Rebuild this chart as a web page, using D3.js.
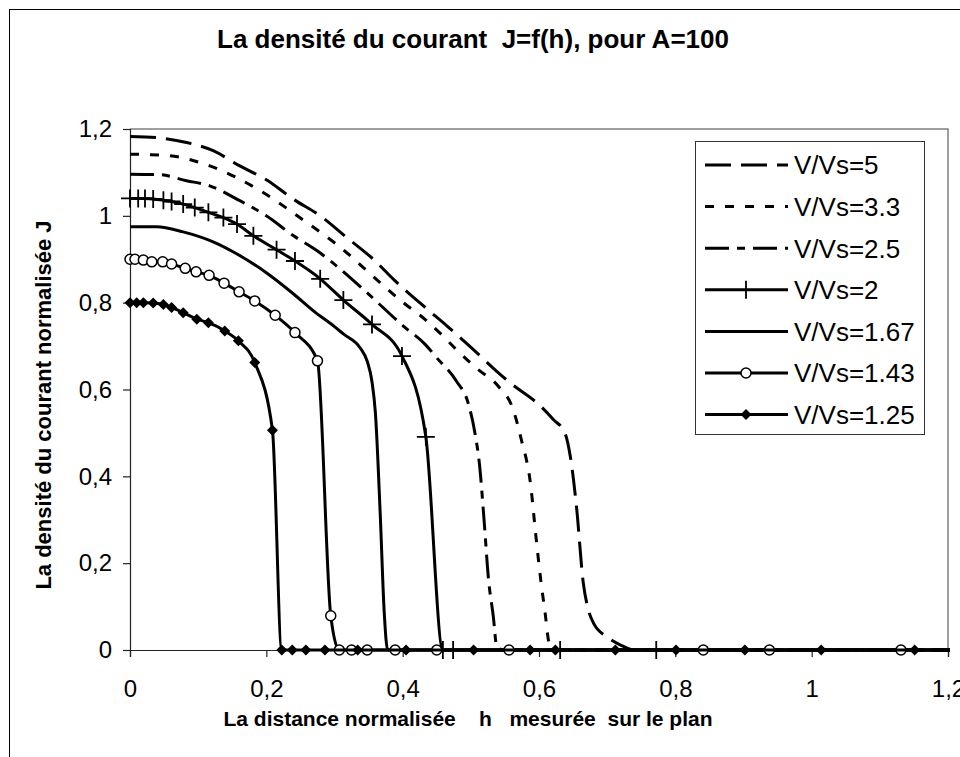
<!DOCTYPE html>
<html lang="fr">
<head>
<meta charset="UTF-8">
<title>La densité du courant J=f(h)</title>
<script src="https://d3js.org/d3.v7.min.js"></script>
<style>
    body { margin: 0; background: #fff; }
    text { font-family: "Liberation Sans", Arial, sans-serif; fill: #000; }
</style>
</head>
<body>
<script>
    // values (h, J) for each V/Vs
    const hVs5 = [0, 0.04, 0.083, 0.122, 0.161, 0.2, 0.24, 0.279, 0.318, 0.357, 0.389, 0.433, 0.466, 0.501, 0.538, 0.558, 0.602, 0.621, 0.638, 0.646, 0.655, 0.665, 0.672, 0.68, 0.70, 0.719, 0.74, 1.26];
    const jVs5 = [1.183, 1.18, 1.169, 1.15, 1.115, 1.083, 1.038, 1.0, 0.95, 0.9, 0.85, 0.789, 0.745, 0.696, 0.642, 0.615, 0.562, 0.531, 0.5, 0.445, 0.33, 0.154, 0.095, 0.062, 0.03, 0.012, 0, 0];

    const hVs33 = [0, 0.054, 0.117, 0.191, 0.249, 0.318, 0.345, 0.401, 0.434, 0.456, 0.48, 0.509, 0.54, 0.5625, 0.574, 0.588, 0.595, 0.602, 0.609, 0.615, 0.625, 1.26];
    const jVs33 = [1.142, 1.139, 1.115, 1.058, 0.996, 0.915, 0.877, 0.80, 0.76, 0.728, 0.69, 0.648, 0.608, 0.552, 0.485, 0.377, 0.269, 0.169, 0.085, 0.015, 0, 0];

    const hVs25 = [0, 0.042, 0.083, 0.117, 0.161, 0.2, 0.24, 0.274, 0.342, 0.401, 0.433, 0.45, 0.479, 0.496, 0.506, 0.513, 0.519, 0.526, 0.533, 0.538, 0.548, 1.26];
    const jVs25 = [1.096, 1.095, 1.081, 1.069, 1.035, 1.0, 0.954, 0.92, 0.831, 0.746, 0.704, 0.673, 0.619, 0.569, 0.5, 0.423, 0.308, 0.162, 0.077, 0.008, 0, 0];

    const hVs2 = [0, 0.012, 0.022, 0.034, 0.049, 0.061, 0.078, 0.095, 0.115, 0.137, 0.157, 0.181, 0.215, 0.242, 0.279, 0.313, 0.355, 0.399, 0.434, 0.459, 0.474, 0.631, 0.772, 1.26];
    const jVs2 = [1.04, 1.04, 1.04, 1.039, 1.036, 1.033, 1.027, 1.019, 1.008, 0.996, 0.981, 0.954, 0.922, 0.896, 0.855, 0.806, 0.75, 0.677, 0.491, 0, 0, 0, 0, 0];

    const hVs167 = [0, 0.039, 0.078, 0.122, 0.157, 0.2, 0.24, 0.27, 0.30, 0.313, 0.338, 0.348, 0.355, 0.36, 0.367, 0.373, 0.378, 1.26];
    const jVs167 = [0.975, 0.975, 0.963, 0.94, 0.912, 0.869, 0.82, 0.78, 0.745, 0.728, 0.695, 0.665, 0.618, 0.546, 0.316, 0.085, 0, 0];

    const hVs143 = [0, 0.0073, 0.0196, 0.032, 0.048, 0.061, 0.081, 0.097, 0.116, 0.138, 0.16, 0.183, 0.213, 0.242, 0.275, 0.2945, 0.307, 0.325, 0.348, 0.389, 0.45, 0.556, 0.841, 0.938, 1.131, 1.26];
    const jVs143 = [0.9, 0.9, 0.898, 0.894, 0.894, 0.889, 0.879, 0.871, 0.863, 0.845, 0.825, 0.804, 0.771, 0.731, 0.666, 0.079, 0, 0, 0, 0, 0, 0, 0, 0, 0, 0];

    const hVs125 = [0, 0.0098, 0.0196, 0.034, 0.049, 0.061, 0.078, 0.098, 0.115, 0.139, 0.159, 0.183, 0.209, 0.2226, 0.238, 0.258, 0.286, 0.334, 0.405, 0.504, 0.587, 0.624, 0.712, 0.801, 0.902, 1.014, 1.151, 1.26];
    const jVs125 = [0.8, 0.8, 0.8, 0.799, 0.796, 0.789, 0.777, 0.762, 0.754, 0.735, 0.712, 0.662, 0.506, 0, 0, 0, 0, 0, 0, 0, 0, 0, 0, 0, 0, 0, 0, 0];

    const seriesNames = ["V/Vs=5", "V/Vs=3.3", "V/Vs=2.5", "V/Vs=2", "V/Vs=1.67", "V/Vs=1.43", "V/Vs=1.25"];
    const xTicks = [0, 0.2, 0.4, 0.6, 0.8, 1, 1.2];
    const yTicks = [0, 0.2, 0.4, 0.6, 0.8, 1, 1.2];

    // line style per series (dash pattern, marker)
    const dashes = ["26,10", "9,11", "24,8,8,8", null, null, null, null];
    const markers = [null, null, null, "plus", null, "circle", "diamond"];

    const series = [
        [hVs5, jVs5], [hVs33, jVs33], [hVs25, jVs25], [hVs2, jVs2],
        [hVs167, jVs167], [hVs143, jVs143], [hVs125, jVs125]
    ].map(([h, j], i) => ({
        name: seriesNames[i],
        dash: dashes[i],
        marker: markers[i],
        points: h.map((v, k) => ({ h: v, j: j[k] }))
    }));

    const width = 960, height = 757;
    const plot = { left: 130, right: 948, top: 129, bottom: 650 };

    const svg = d3.select("body").append("svg")
        .attr("width", width)
        .attr("height", height);

    // outer chart frame
    svg.append("rect")
        .attr("x", 9.5).attr("y", 9.5)
        .attr("width", 1000).attr("height", 1000)
        .attr("fill", "none").attr("stroke", "#000").attr("stroke-width", 1);

    const x = d3.scaleLinear().domain([0, 1.2]).range([plot.left, plot.right]);
    const y = d3.scaleLinear().domain([0, 1.2]).range([plot.bottom, plot.top]);

    // plot area border (top and right, grey)
    svg.append("path")
        .attr("d", `M${plot.left},${plot.top}H${plot.right}V${plot.bottom}`)
        .attr("fill", "none").attr("stroke", "#808080").attr("stroke-width", 1.5);

    // axes
    const fmt = d => d3.format("")(d).replace(".", ",");
    const gy = svg.append("g")
        .attr("transform", `translate(${plot.left},0)`)
        .call(d3.axisLeft(y).tickValues(yTicks).tickFormat(fmt).tickSize(7).tickPadding(11));
    const gx = svg.append("g")
        .attr("transform", `translate(0,${plot.bottom})`)
        .call(d3.axisBottom(x).tickValues(xTicks).tickFormat(fmt).tickSize(7).tickPadding(23));
    [gx, gy].forEach(g => {
        g.select(".domain").attr("stroke", "#222").attr("stroke-width", 1.2);
        g.selectAll(".tick line").attr("stroke", "#222").attr("stroke-width", 1.2);
        g.selectAll(".tick text")
            .attr("fill", "#000")
            .style("font-size", "24px")
            .style("font-family", "'Liberation Sans', Arial, sans-serif");
    });

    // clip lines/markers at the right side of the plot area
    svg.append("clipPath").attr("id", "clip")
        .append("rect").attr("x", 0).attr("y", 0)
        .attr("width", plot.right + 2).attr("height", height);

    const line = d3.line()
        .x(d => x(d.h))
        .y(d => y(d.j))
        .curve(d3.curveMonotoneX);

    const diamond = "M0,-5.5L5.5,0L0,5.5L-5.5,0Z";

    function drawMarker(g, type, cx, cy) {
        if (type === "plus") {
            g.append("path")
                .attr("d", `M${cx - 9},${cy}H${cx + 9}M${cx},${cy - 9}V${cy + 9}`)
                .attr("stroke", "#000").attr("stroke-width", 1.8).attr("fill", "none");
        } else if (type === "circle") {
            g.append("circle")
                .attr("cx", cx).attr("cy", cy).attr("r", 5)
                .attr("fill", "#fff").attr("stroke", "#000").attr("stroke-width", 1.5);
        } else if (type === "diamond") {
            g.append("path")
                .attr("d", diamond)
                .attr("transform", `translate(${cx},${cy})`)
                .attr("fill", "#000");
        }
    }

    const plotG = svg.append("g").attr("clip-path", "url(#clip)");

    series.forEach(s => {
        const g = plotG.append("g");
        g.append("path")
            .datum(s.points)
            .attr("d", line)
            .attr("fill", "none")
            .attr("stroke", "#000")
            .attr("stroke-width", 3)
            .attr("stroke-linejoin", "round")
            .attr("stroke-dasharray", s.dash);
        if (s.marker) {
            s.points.forEach(p => drawMarker(g, s.marker, x(p.h), y(p.j)));
        }
    });

    // legend
    const legend = svg.append("g");
    legend.append("rect")
        .attr("x", 695.5).attr("y", 141.5)
        .attr("width", 229).attr("height", 293)
        .attr("fill", "#fff").attr("stroke", "#333").attr("stroke-width", 1);

    series.forEach((s, i) => {
        const cy = 165 + i * 41.6;
        legend.append("line")
            .attr("x1", 705).attr("x2", 788)
            .attr("y1", cy).attr("y2", cy)
            .attr("stroke", "#000").attr("stroke-width", 3)
            .attr("stroke-dasharray", s.dash);
        if (s.marker) drawMarker(legend, s.marker, 746, cy);
        legend.append("text")
            .attr("x", 794).attr("y", cy)
            .attr("dy", "0.36em")
            .style("font-size", "26px")
            .text(s.name);
    });

    // titles
    svg.append("text")
        .attr("x", 473).attr("y", 48)
        .attr("text-anchor", "middle")
        .style("font-size", "26px").style("font-weight", "bold")
        .style("white-space", "pre")
        .text("La densité du courant  J=f(h), pour A=100");

    svg.append("text")
        .attr("x", 468).attr("y", 726)
        .attr("text-anchor", "middle")
        .style("font-size", "21px").style("font-weight", "bold")
        .style("white-space", "pre")
        .text("La distance normalisée    h   mesurée  sur le plan");

    svg.append("text")
        .attr("transform", "translate(51,405) rotate(-90)")
        .attr("text-anchor", "middle")
        .style("font-size", "22px").style("font-weight", "bold")
        .text("La densité du courant normalisée J");
</script>
</body>
</html>
